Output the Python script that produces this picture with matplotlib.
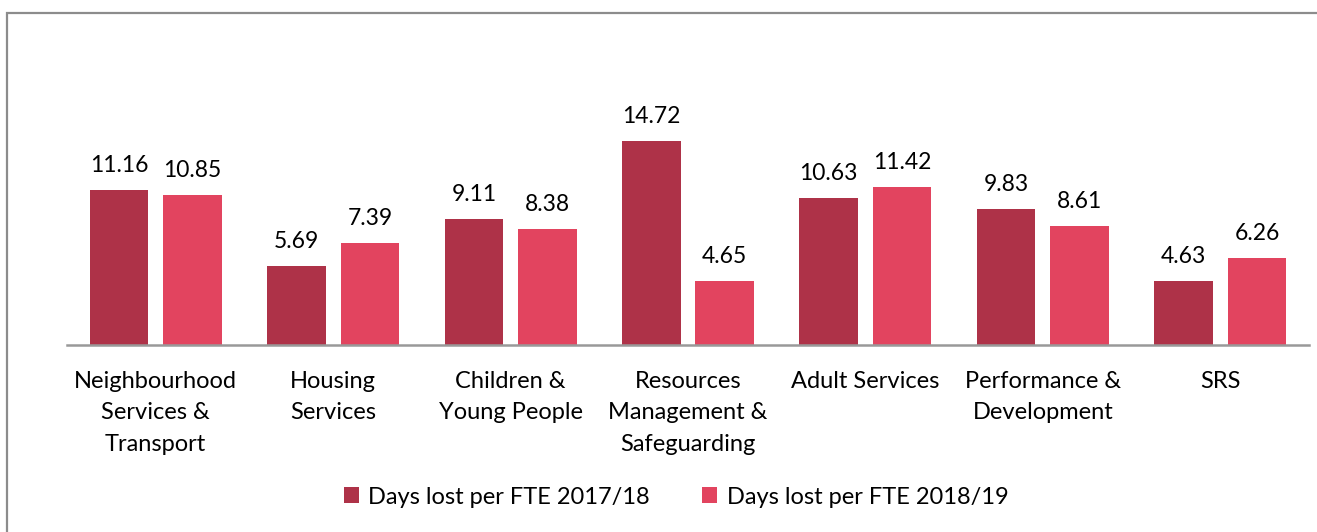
import numpy as np
import matplotlib.pyplot as plt
from matplotlib.patches import Rectangle

categories = ['Neighbourhood\nServices &\nTransport', 'Housing\nServices',
              'Children &\nYoung People', 'Resources\nManagement &\nSafeguarding',
              'Adult Services', 'Performance &\nDevelopment', 'SRS']
days_2017 = [11.16, 5.69, 9.11, 14.72, 10.63, 9.83, 4.63]
days_2018 = [10.85, 7.39, 8.38, 4.65, 11.42, 8.61, 6.26]
series_names = ['Days lost per FTE 2017/18', 'Days lost per FTE 2018/19']

plt.rcParams['font.family'] = ['Lato', 'DejaVu Sans']

W, H = 1317, 532
fig = plt.figure(figsize=(W / 100, H / 100), dpi=100)

# Outer chart border (runs off right and bottom edges like the source image)
fig.patches.append(Rectangle((7 / W, -0.1), 1.2, 1 - 13 / H + 0.1,
                             transform=fig.transFigure, fill=False,
                             edgecolor='#8c8c8c', linewidth=1.6))

ymax = 18
px_per_unit = 13.86
ax_bottom = 345
ax_h = ymax * px_per_unit
ax = fig.add_axes([67 / W, 1 - ax_bottom / H, (1309 - 67) / W, ax_h / H])

x = np.arange(len(categories))
width = 0.33
off = 0.207
b1 = ax.bar(x - off, days_2017, width, color='#ae3248', label=series_names[0])
b2 = ax.bar(x + off, days_2018, width, color='#e2445f', label=series_names[1])

for bars in (b1, b2):
    for rect in bars:
        ax.annotate(f'{rect.get_height():.2f}',
                    (rect.get_x() + rect.get_width() / 2, rect.get_height()),
                    xytext=(0, 10), textcoords='offset points',
                    ha='center', va='bottom', fontsize=16.5, color='#000000')

ax.set_xlim(-0.5, len(categories) - 0.5)
ax.set_ylim(0, ymax)
ax.set_yticks([])
ax.set_xticks(x)
ax.set_xticklabels(categories, fontsize=17, linespacing=1.62)
ax.tick_params(axis='x', length=0, pad=18.5)
for s in ['top', 'right', 'left']:
    ax.spines[s].set_visible(False)
ax.spines['bottom'].set_color('#999999')
ax.spines['bottom'].set_linewidth(1.8)

fig.legend(handles=[b1, b2], loc='center', bbox_to_anchor=(676 / W, 1 - 497 / H),
           ncol=2, frameon=False, fontsize=17, handlelength=0.65, handleheight=0.65,
           handletextpad=0.4, columnspacing=2.2)

fig.savefig('out.png', dpi=100)
